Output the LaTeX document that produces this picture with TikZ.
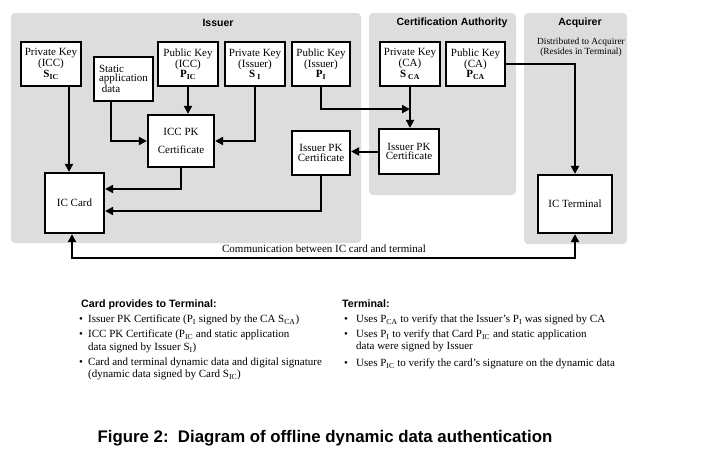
\documentclass[tikz,border=0pt]{standalone}
\usepackage{fontspec}
\setmainfont{Liberation Serif}
\newfontfamily\arialf{Liberation Sans}
\usetikzlibrary{arrows.meta}
\definecolor{panel}{RGB}{221,221,221}
\tikzset{
  panelbox/.style={fill=panel, draw=none, rounded corners=4pt},
  keybox/.style={draw, line width=2.2pt, fill=white, inner sep=0pt, align=center,
    font=\fontsize{11}{9.5}\selectfont},
  arr/.style={line width=2pt, -{Triangle[length=8pt,width=8pt]}},
  arrb/.style={line width=2pt, {Triangle[length=8pt,width=8pt]}-{Triangle[length=8pt,width=8pt]}},
  ptitle/.style={font=\arialf\bfseries\fontsize{10.5}{12}\selectfont},
  small/.style={font=\fontsize{9.4}{10}\selectfont, align=center},
  body/.style={font=\fontsize{11}{12}\selectfont, anchor=base west, inner sep=0pt},
  btitle/.style={font=\arialf\bfseries\fontsize{10.7}{12}\selectfont, anchor=base west, inner sep=0pt},
}
\begin{document}
\begin{tikzpicture}[x=1pt,y=-1pt]
\useasboundingbox (0,0) rectangle (705,458);
% panels
\path[panelbox] (11,13) rectangle (361,243);
\path[panelbox] (369,13) rectangle (516,195);
\path[panelbox] (524,13) rectangle (627,244);
\node[ptitle] (tis) at (218,23) {Issuer};
\node[ptitle] (tca) at (452,23) {Certification Authority};
\node[ptitle] (tac) at (580,23) {Acquirer};
\node[small] (dist) at (581,47) {Distributed to Acquirer\\(Resides in Terminal)};
% key boxes
\node[keybox, minimum width=60pt, minimum height=44pt] (pkicc) at (51,64) {Private Key\\(ICC)\\\textbf{S\textsubscript{IC}}};
\node[keybox, minimum width=59pt, minimum height=44pt, align=left] (static) at (123.5,79) {Static\\application\\\ data};
\node[keybox, minimum width=60pt, minimum height=44pt] (pubicc) at (188,64) {Public Key\\(ICC)\\\textbf{P\textsubscript{IC}}};
\node[keybox, minimum width=60pt, minimum height=44pt] (privis) at (255,64) {Private Key\\(Issuer)\\\textbf{S\textsubscript{ I}}};
\node[keybox, minimum width=58pt, minimum height=44pt] (pubis) at (321,64) {Public Key\\(Issuer)\\\textbf{P\textsubscript{I}}};
\node[keybox, minimum width=60pt, minimum height=44pt] (privca) at (410,64) {Private Key\\(CA)\\\textbf{S\textsubscript{ CA}}};
\node[keybox, minimum width=59pt, minimum height=44pt] (pubca) at (475.5,64) {Public Key\\(CA)\\\textbf{P\textsubscript{CA}}};
% certificates and devices
\node[keybox, minimum width=66pt, minimum height=52pt] (iccpk) at (181,141) {ICC PK\\[9pt]Certificate};
\node[keybox, minimum width=58pt, minimum height=44pt] (ispk) at (321,153) {Issuer PK\\Certificate};
\node[keybox, minimum width=60pt, minimum height=45pt] (capk) at (409,151.5) {Issuer PK\\Certificate};
\node[keybox, minimum width=59pt, minimum height=60pt] (iccard) at (74.5,203) {IC Card};
\node[keybox, minimum width=74pt, minimum height=58pt] (term) at (575,204) {IC Terminal};
% connectors
\coordinate (c1) at ([xshift=18pt]pkicc.south);
\draw[arr] (c1) -- (c1 |- iccard.north);
\coordinate (c2) at ([xshift=-12.5pt]static.south);
\draw[arr] (c2) |- (iccpk.west);
\draw[arr] (pubicc.south) -- (pubicc.south |- iccpk.north);
\draw[arr] (privis.south) |- (iccpk.east);
\draw[arr] (iccpk.south) |- ([yshift=14pt]iccard.east);
\draw[arr] (ispk.south) |- ([yshift=-8pt]iccard.east);
\coordinate (c7) at ([yshift=-22pt]privca.south);
\draw[arr] (pubis.south) |- (c7);
\draw[arr] (privca.south) -- (privca.south |- capk.north);
\draw[arr] (capk.west) -- (capk.west -| ispk.east);
\draw[arr] (pubca.east) -| (term.north);
\coordinate (c11) at ([xshift=-2.5pt]iccard.south);
\draw[arrb] (c11) -- ++(0,24) -| (term.south);
\node[font=\fontsize{11}{12}\selectfont, inner sep=0pt] (comm) at (324,249) {Communication between IC card and terminal};
% bottom text, left column
\node[btitle] (lt) at (81,307) {Card provides to Terminal:};
\node[body] (lb1) at (79,322.5) {•};
\node[body] (l1) at (88,322.5) {Issuer PK Certificate (P\textsubscript{I} signed by the CA S\textsubscript{CA})};
\node[body] (lb2) at (79,337.5) {•};
\node[body] (l2) at (88,337.5) {ICC PK Certificate (P\textsubscript{IC} and static application};
\node[body] (l3) at (88,350.5) {data signed by Issuer S\textsubscript{I})};
\node[body] (lb4) at (79,365.5) {•};
\node[body] (l4) at (88,365.5) {Card and terminal dynamic data and digital signature};
\node[body] (l5) at (88,377.5) {(dynamic data signed by Card S\textsubscript{IC})};
% right column
\node[btitle] (rt) at (342,307) {Terminal:};
\node[body] (rb1) at (344,322.5) {•};
\node[body] (r1) at (356,322.5) {Uses P\textsubscript{CA} to verify that the Issuer’s P\textsubscript{I} was signed by CA};
\node[body] (rb2) at (344,337.5) {•};
\node[body] (r2) at (356,337.5) {Uses P\textsubscript{I} to verify that Card P\textsubscript{IC} and static application};
\node[body] (r3) at (356,349.5) {data were signed by Issuer};
\node[body] (rb4) at (344,366.5) {•};
\node[body] (r4) at (356,366.5) {Uses P\textsubscript{IC} to verify the card’s signature on the dynamic data};
% caption
\node[font=\arialf\bfseries\fontsize{16.8}{18}\selectfont, inner sep=0pt] (cap) at (325,438) {Figure 2:\ \ Diagram of offline dynamic data authentication};
\end{tikzpicture}
\end{document}
